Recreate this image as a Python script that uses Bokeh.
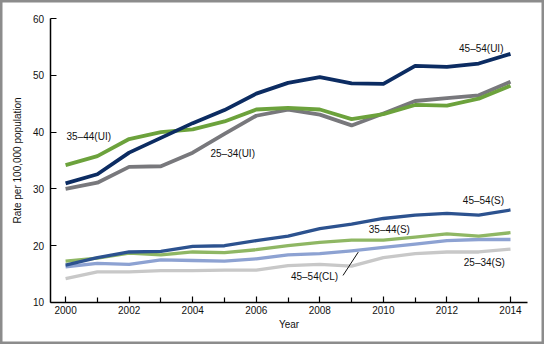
from bokeh.plotting import figure
from bokeh.models import FixedTicker, Range1d, ColumnDataSource
from bokeh.core.properties import value
from bokeh.embed import file_html
from bokeh.resources import INLINE

years = list(range(2000, 2015))
ui_45_54 = [31.0, 32.6, 36.4, 39.0, 41.6, 43.9, 46.8, 48.7, 49.7, 48.6, 48.5, 51.7, 51.5, 52.1, 53.8]
ui_35_44 = [34.2, 35.8, 38.8, 40.0, 40.5, 41.9, 44.0, 44.3, 44.0, 42.3, 43.2, 44.8, 44.7, 45.9, 48.2]
ui_25_34 = [30.0, 31.1, 33.9, 34.0, 36.4, 39.7, 42.9, 44.0, 43.1, 41.2, 43.3, 45.5, 46.0, 46.5, 48.9]
s_45_54 = [16.6, 17.9, 18.9, 19.0, 19.9, 20.0, 20.9, 21.7, 23.0, 23.8, 24.8, 25.4, 25.7, 25.4, 26.3]
s_35_44 = [17.3, 17.8, 18.7, 18.4, 18.9, 18.8, 19.3, 20.0, 20.6, 21.0, 21.0, 21.5, 22.1, 21.7, 22.3]
cl_45_54 = [16.3, 16.9, 16.7, 17.5, 17.4, 17.3, 17.7, 18.4, 18.6, 19.1, 19.7, 20.3, 20.9, 21.1, 21.1]
s_25_34 = [14.2, 15.4, 15.4, 15.6, 15.6, 15.7, 15.7, 16.5, 16.7, 16.4, 17.9, 18.6, 18.9, 18.9, 19.4]

x_tick_labels = [2000, 2002, 2004, 2006, 2008, 2010, 2012, 2014]
y_tick_labels = [10, 20, 30, 40, 50, 60]

label_texts = ["45\u201354(UI)", "35\u201344(UI)", "25\u201334(UI)", "45\u201354(S)",
               "35\u201344(S)", "25\u201334(S)", "45\u201354(CL)"]
label_x = [2012.38, 2000.03, 2004.56, 2012.50, 2009.54, 2012.53, 2007.09]
label_y = [54.8, 39.2, 36.3, 28.0, 22.9, 17.0, 14.5]

FONT = "Liberation Sans"
FS = "10px"

# axis extents (where the drawn axes start and stop)
X_AXIS_BOUNDS = (1999.51, 2014.52)
Y_AXIS_BOUNDS = (10, 60)

p = figure(width=544, height=344, output_backend="svg", toolbar_location=None,
           x_range=Range1d(1997.952, 2015.070), y_range=Range1d(2.600, 63.206),
           min_border=0)
p.outline_line_color = "#8c8c8c"
p.outline_line_width = 4
p.xgrid.visible = False
p.ygrid.visible = False
p.background_fill_color = "white"
p.border_fill_color = "white"

series = [
    (s_25_34, "#c8c8c8", 3.3),
    (cl_45_54, "#8da2d2", 3.3),
    (s_35_44, "#8fb764", 3.3),
    (s_45_54, "#2c528f", 3.3),
    (ui_25_34, "#78787c", 3.8),
    (ui_35_44, "#6ca23c", 3.8),
    (ui_45_54, "#0c2c62", 3.8),
]
for vals, col, lw in series:
    p.line(years, vals, line_color=col, line_width=lw, line_join="round")

src = ColumnDataSource(dict(x=label_x, y=label_y, t=label_texts))
p.text(x="x", y="y", text="t", source=src, text_font=value(FONT), text_font_size=FS,
       text_align="left", text_baseline="middle", text_color="#111111")

# leader line for 45-54(CL)
p.segment(x0=[2008.73], y0=[14.77], x1=[2009.21], y1=[18.88], line_color="#111111", line_width=1)

for ax in (p.xaxis[0], p.yaxis[0]):
    ax.axis_line_color = "black"
    ax.axis_line_width = 1.5
    ax.major_tick_line_color = "black"
    ax.major_tick_line_width = 1.2
    ax.major_tick_in = 6
    ax.major_tick_out = 0
    ax.major_label_text_font = FONT
    ax.major_label_text_font_size = FS
    ax.major_label_text_color = "#111111"
    ax.axis_label_text_font = FONT
    ax.axis_label_text_font_size = FS
    ax.axis_label_text_font_style = "normal"
    ax.axis_label_text_color = "#111111"

p.xaxis.fixed_location = Y_AXIS_BOUNDS[0]
p.xaxis.bounds = X_AXIS_BOUNDS
p.xaxis.ticker = FixedTicker(ticks=x_tick_labels, minor_ticks=[y for y in years if y not in x_tick_labels])
p.xaxis.minor_tick_line_color = "black"
p.xaxis.minor_tick_line_width = 1.2
p.xaxis.minor_tick_in = 5
p.xaxis.minor_tick_out = 0
p.xaxis.major_label_standoff = 4
p.xaxis.axis_label = "Year"
p.xaxis.axis_label_standoff = 1

p.yaxis.fixed_location = X_AXIS_BOUNDS[0]
p.yaxis.bounds = Y_AXIS_BOUNDS
p.yaxis.ticker = FixedTicker(ticks=y_tick_labels, minor_ticks=[])
p.yaxis.minor_tick_line_color = None
p.yaxis.major_label_standoff = 6
p.yaxis.axis_label = "Rate per 100,000 population"
p.yaxis.axis_label_standoff = 7

open("out.html", "w").write(file_html(p, INLINE))
